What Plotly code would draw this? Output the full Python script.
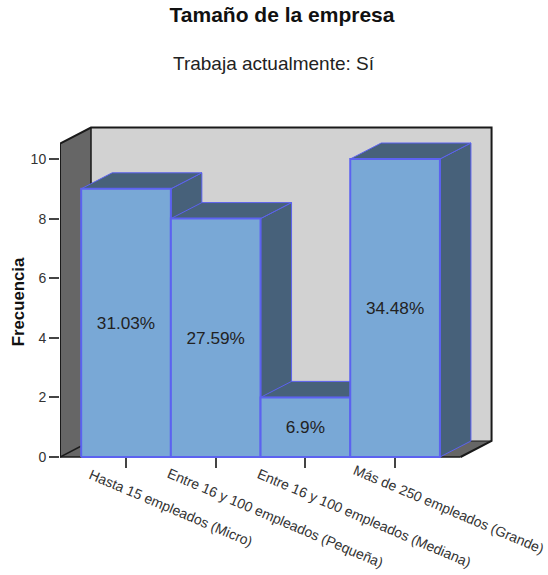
import plotly.graph_objects as go

categories = ["Hasta 15 empleados (Micro)", "Entre 16 y 100 empleados (Pequeña)",
              "Entre 16 y 100 empleados (Mediana)", "Más de 250 empleados (Grande)"]
frequencies = [9, 8, 2, 10]
percent_labels = ["31.03%", "27.59%", "6.9%", "34.48%"]
y_ticks = [0, 2, 4, 6, 8, 10]

FONT = "Liberation Sans"
WALL_DARK = "#666666"
WALL_BACK = "#D2D2D2"
BAR_FRONT = "#79A8D6"
BAR_SHADE = "#47617A"
BAR_EDGE = "#5C62F0"
EDGE = "#1A1A1A"

# 3D projection constants, in axis units
W = 548; H = 575
ML, MR, MT, MB = 60, 53, 120, 91
DX, DY = 0.3456, 0.537
X_LO, X_HI = 0.264, 5.114
Y_LO, Y_HI = -0.906, 11.309
AXIS_POS = 0.906 / (0.906 + 11.309)
FLOOR_R = 4.73
WALL_TOP = 10.52
BAR_HALF = 0.5
TEXT_DROP = 0.05
LABEL_SHIFT = [45, 60, 59, 53]
LABEL_DOWN = [51, 61, 61, 52]

fig = go.Figure()


def face(xs, ys, fill, line=None, width=0):
    fig.add_trace(go.Scatter(x=xs, y=ys, mode="lines", fill="toself", fillcolor=fill,
                             line=dict(color=line or fill, width=width),
                             hoverinfo="skip", showlegend=False))


def edge(xs, ys, width=1.5):
    fig.add_trace(go.Scatter(x=xs, y=ys, mode="lines", line=dict(color=EDGE, width=width),
                             hoverinfo="skip", showlegend=False))


x0 = X_LO
face([x0 + DX, FLOOR_R + DX, FLOOR_R + DX, x0 + DX, x0 + DX],
     [DY, DY, WALL_TOP + DY, WALL_TOP + DY, DY], WALL_BACK)
face([x0, x0 + DX, x0 + DX, x0, x0], [0, DY, WALL_TOP + DY, WALL_TOP, 0], WALL_DARK)
face([x0, x0 + DX, FLOOR_R + DX, FLOOR_R, x0], [0, DY, DY, 0, 0], WALL_DARK)
edge([x0, x0, x0 + DX, FLOOR_R + DX, FLOOR_R + DX, FLOOR_R],
     [0, WALL_TOP, WALL_TOP + DY, WALL_TOP + DY, DY, 0], 2)
edge([x0, x0 + DX, x0 + DX], [0, DY, WALL_TOP + DY])
edge([x0 + DX, FLOOR_R + DX], [DY, DY], 1)
edge([x0, FLOOR_R], [0, 0], 1.5)

for i, v in enumerate(frequencies):
    c = i + 1
    l, r = c - BAR_HALF, c + BAR_HALF
    face([r, r + DX, r + DX, r, r], [0, DY, v + DY, v, 0], BAR_SHADE, BAR_EDGE, 1)
    face([l, l + DX, r + DX, r, l], [v, v + DY, v + DY, v, v], BAR_SHADE, BAR_EDGE, 1)
    face([l, r, r, l, l], [0, 0, v, v, 0], BAR_FRONT, BAR_EDGE, 2)

fig.add_trace(go.Scatter(
    x=[i + 1 for i in range(len(frequencies))], y=[v / 2 - TEXT_DROP for v in frequencies],
    mode="text", text=percent_labels,
    textfont=dict(family=FONT, size=17.2, color="#222222"),
    hoverinfo="skip", showlegend=False))

annotations = [
    dict(x=(273.5 - ML) / (W - ML - MR), y=(H - MB - 63.5) / (H - MT - MB),
         xref="paper", yref="paper", yanchor="middle", xanchor="center",
         text="Trabaja actualmente: Sí", showarrow=False,
         font=dict(family=FONT, size=19, color="#222222"))
]

for i, cat in enumerate(categories):
    annotations.append(dict(
        x=i + 1, y=0, xref="x", yref="y", text=cat, showarrow=False, textangle=23,
        xanchor="center", yanchor="middle", xshift=LABEL_SHIFT[i], yshift=-LABEL_DOWN[i],
        font=dict(family=FONT, size=14, color="#333333")))

fig.update_layout(
    width=W, height=H, autosize=False,
    margin=dict(l=ML, r=MR, t=MT, b=MB, pad=0),
    paper_bgcolor="white", plot_bgcolor="white",
    title=dict(text="<b>Tamaño de la empresa</b>", x=282 / W, xanchor="center",
               y=1 - 15 / H, yanchor="middle", xref="container", yref="container",
               font=dict(family=FONT, size=21, color="#111111")),
    xaxis=dict(range=[X_LO, X_HI], tickmode="array", tickvals=[1, 2, 3, 4],
               ticktext=["", "", "", ""], ticks="outside", ticklen=10, tickwidth=1.5,
               tickcolor="#444444", showgrid=False, zeroline=False, showline=False,
               anchor="free", position=AXIS_POS),
    yaxis=dict(range=[Y_LO, Y_HI], tickmode="array", tickvals=y_ticks,
               ticks="outside", ticklen=10, tickwidth=1.5, tickcolor="#444444",
               tickfont=dict(family=FONT, size=14, color="#333333"),
               showgrid=False, zeroline=False, showline=False,
               title=dict(text="<b>Frecuencia</b>", standoff=1,
                          font=dict(family=FONT, size=16.8, color="#111111"))),
    annotations=annotations,
)

fig.write_html("out.html", config=dict(displayModeBar=False),
               post_script="document.body.style.margin='0';")
